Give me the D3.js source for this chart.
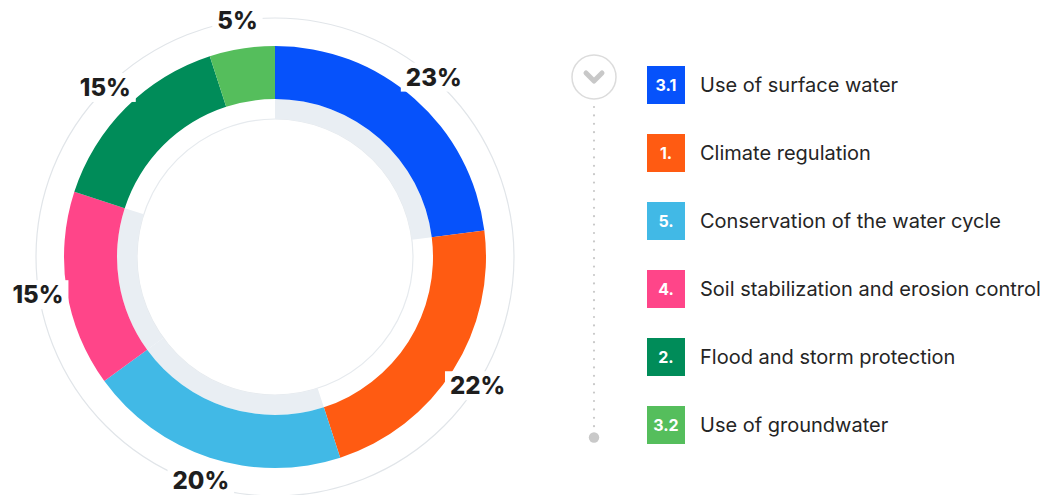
<!DOCTYPE html>
<html>
<head>
<meta charset="utf-8">
<script src="https://cdn.jsdelivr.net/npm/d3@7"></script>
<style>
  html, body { margin: 0; padding: 0; background: #fff; }
  svg { display: block; }
</style>
</head>
<body>
<svg id="chart" width="1047" height="495"></svg>
<script>
// Ecosystem service shares
const codes = ["3.1", "1.", "5.", "4.", "2.", "3.2"];
const categories = [
  "Use of surface water",
  "Climate regulation",
  "Conservation of the water cycle",
  "Soil stabilization and erosion control",
  "Flood and storm protection",
  "Use of groundwater"
];
const values = [23, 22, 20, 15, 15, 5];
// services that are also shown on the inner grey track
const trackFlags = [1, 0, 1, 1, 0, 0];
const colors = ["#0652fb", "#ff5b12", "#41b9e6", "#ff4589", "#008c59", "#55be5c"];

const W = 1047, H = 495;
const svg = d3.select("#chart");
const cx = 275, cy = 257;
const rOuter = 211, rInner = 158, rTrackIn = 138, rGuide = 239, rLabel = 240;

const pie = d3.pie().sort(null).value(d => d.value);
const rows = categories.map((c, i) => ({ name: c, code: codes[i], value: values[i], color: colors[i], track: trackFlags[i] }));
const arcs = pie(rows);

const g = svg.append("g").attr("transform", `translate(${cx},${cy})`);

// thin guide circles
g.append("circle").attr("r", rGuide).attr("fill", "none").attr("stroke", "#e1e5e9").attr("stroke-width", 1.2);
g.append("circle").attr("r", rTrackIn).attr("fill", "none").attr("stroke", "#e6eaee").attr("stroke-width", 1.2);

// inner grey track
const trackArc = d3.arc().innerRadius(rTrackIn).outerRadius(rInner);
g.selectAll("path.track").data(arcs.filter(a => a.data.track)).join("path")
  .attr("class", "track").attr("d", trackArc).attr("fill", "#e9eef3");

// main ring
const ringArc = d3.arc().innerRadius(rInner).outerRadius(rOuter);
g.selectAll("path.slice").data(arcs).join("path")
  .attr("class", "slice").attr("d", ringArc).attr("fill", d => d.data.color);

// percentage labels on the guide circle, kept inside the drawing area
const labelArc = d3.arc().innerRadius(rLabel).outerRadius(rLabel);
const labelPos = d => {
  const [x, y] = labelArc.centroid(d);
  return [x, Math.max(14 - cy, Math.min(H - 15 - cy, y))];
};
const lab = g.selectAll("g.lab").data(arcs).join("g").attr("class", "lab")
  .attr("transform", d => `translate(${labelPos(d)})`);
const txt = lab.append("text")
  .attr("text-anchor", "middle").attr("dy", "0.36em")
  .attr("font-family", "Inter, 'Noto Sans', sans-serif").attr("font-weight", 800)
  .attr("font-size", 24).attr("fill", "#1e1e1e")
  .text(d => d.data.value + "%");
txt.each(function () {
  const b = this.getBBox();
  d3.select(this.parentNode).insert("rect", "text")
    .attr("x", b.x - 5).attr("y", b.y).attr("width", b.width + 10).attr("height", b.height)
    .attr("fill", "#fff");
});

// legend
const lx = 594, ly0 = 85, step = 68;
const y = d3.scalePoint().domain(categories).range([ly0, ly0 + step * (categories.length - 1)]);

const lg = svg.append("g");
// dotted timeline
lg.append("line").attr("x1", lx).attr("x2", lx).attr("y1", 107).attr("y2", 432)
  .attr("stroke", "#c9c9c9").attr("stroke-width", 2.2).attr("stroke-linecap", "round")
  .attr("stroke-dasharray", "0 8.4");
lg.append("circle").attr("cx", lx).attr("cy", 437.5).attr("r", 5.2).attr("fill", "#c9c9c9");
// chevron button
lg.append("circle").attr("cx", lx).attr("cy", 77).attr("r", 22).attr("fill", "#fff")
  .attr("stroke", "#dcdcdc").attr("stroke-width", 1.5);
lg.append("path").attr("d", `M${lx - 8},${73} L${lx},${81} L${lx + 8},${73}`)
  .attr("fill", "none").attr("stroke", "#c8c8c8").attr("stroke-width", 5)
  .attr("stroke-linecap", "round").attr("stroke-linejoin", "round");

const item = lg.selectAll("g.item").data(rows).join("g").attr("class", "item")
  .attr("transform", d => `translate(0,${y(d.name)})`);
item.append("rect").attr("x", 647).attr("y", -19).attr("width", 38).attr("height", 38)
  .attr("fill", d => d.color);
item.append("text").attr("x", 666).attr("dy", "0.36em").attr("text-anchor", "middle")
  .attr("font-family", "Inter, 'Noto Sans', sans-serif").attr("font-weight", 700)
  .attr("font-size", 16).attr("fill", "#fff").text(d => d.code);
item.append("text").attr("x", 700).attr("dy", "0.36em")
  .attr("font-family", "Inter, 'Noto Sans', sans-serif").attr("font-weight", 400)
  .attr("font-size", 20).attr("fill", "#252525").text(d => d.name);
</script>
</body>
</html>
